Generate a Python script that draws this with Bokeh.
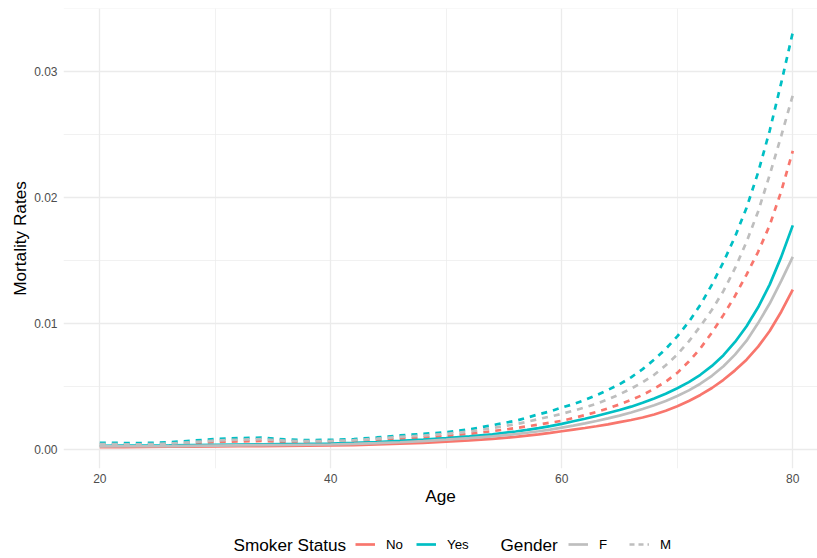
from bokeh.plotting import figure
from bokeh.layouts import column
from bokeh.models import Range1d, FixedTicker, NumeralTickFormatter, Legend, LegendItem, Label
from bokeh.core.properties import value
from bokeh.embed import file_html
from bokeh.resources import INLINE

FONT = "Liberation Sans"

ages = [20, 22, 24, 26, 28, 30, 32, 34, 36, 38, 40, 42, 44, 46, 48, 50, 52, 54, 56,
        57, 58, 59, 60, 61, 62, 63, 64, 65, 66, 67, 68, 69, 70, 71, 72, 73, 74, 75,
        76, 77, 78, 79, 80]

# Smoker = Yes, Gender = M (teal dashed)
yes_m = [0.00056, 0.00054, 0.00054, 0.00060, 0.00072, 0.00086, 0.00092, 0.00096, 0.00082, 0.00077,
         0.00079, 0.00084, 0.00098, 0.00114, 0.00126, 0.00140, 0.00162, 0.00195, 0.00230,
         0.00255, 0.00282, 0.00305, 0.00335, 0.00362, 0.00395, 0.00433, 0.00475, 0.00520, 0.00575,
         0.00640, 0.00715, 0.00800, 0.00900, 0.01015, 0.01150, 0.01310, 0.01490, 0.01690, 0.01920,
         0.02200, 0.02530, 0.02910, 0.03310]
# Both groups combined, Gender = M (grey dashed)
all_m = [0.00045, 0.00044, 0.00044, 0.00050, 0.00060, 0.00074, 0.00080, 0.00084, 0.00072, 0.00068,
         0.00070, 0.00076, 0.00088, 0.00102, 0.00113, 0.00126, 0.00145, 0.00172, 0.00203,
         0.00222, 0.00244, 0.00264, 0.00285, 0.00310, 0.00336, 0.00365, 0.00400, 0.00440, 0.00485,
         0.00535, 0.00595, 0.00670, 0.00755, 0.00860, 0.00980, 0.01110, 0.01260, 0.01440, 0.01650,
         0.01890, 0.02180, 0.02490, 0.02810]
# Smoker = No, Gender = M (red dashed)
no_m = [0.00040, 0.00038, 0.00038, 0.00044, 0.00052, 0.00062, 0.00066, 0.00070, 0.00062, 0.00058,
        0.00060, 0.00066, 0.00076, 0.00088, 0.00098, 0.00110, 0.00126, 0.00148, 0.00172,
        0.00186, 0.00200, 0.00215, 0.00230, 0.00252, 0.00275, 0.00300, 0.00328, 0.00360, 0.00395,
        0.00435, 0.00485, 0.00540, 0.00610, 0.00700, 0.00805, 0.00930, 0.01070, 0.01220, 0.01390,
        0.01570, 0.01780, 0.02050, 0.02370]
# Smoker = Yes, Gender = F (teal solid)
yes_f = [0.00032, 0.00033, 0.00034, 0.00035, 0.00037, 0.00039, 0.00041, 0.00043, 0.00045, 0.00047,
         0.00050, 0.00055, 0.00062, 0.00070, 0.00080, 0.00092, 0.00106, 0.00122, 0.00145,
         0.00158, 0.00172, 0.00188, 0.00206, 0.00226, 0.00246, 0.00268, 0.00292, 0.00316, 0.00342,
         0.00373, 0.00407, 0.00445, 0.00488, 0.00537, 0.00595, 0.00665, 0.00750, 0.00855, 0.00980,
         0.01130, 0.01310, 0.01530, 0.01780]
# Both groups combined, Gender = F (grey solid)
all_f = [0.00027, 0.00028, 0.00028, 0.00029, 0.00031, 0.00033, 0.00035, 0.00037, 0.00038, 0.00040,
         0.00042, 0.00047, 0.00053, 0.00060, 0.00069, 0.00080, 0.00092, 0.00106, 0.00124,
         0.00135, 0.00147, 0.00160, 0.00176, 0.00192, 0.00209, 0.00228, 0.00249, 0.00271, 0.00296,
         0.00323, 0.00353, 0.00387, 0.00426, 0.00471, 0.00524, 0.00587, 0.00663, 0.00755, 0.00865,
         0.01005, 0.01160, 0.01340, 0.01530]
# Smoker = No, Gender = F (red solid)
no_f = [0.00022, 0.00022, 0.00023, 0.00024, 0.00025, 0.00027, 0.00028, 0.00029, 0.00030, 0.00032,
        0.00034, 0.00037, 0.00042, 0.00048, 0.00055, 0.00064, 0.00074, 0.00086, 0.00102,
        0.00112, 0.00122, 0.00134, 0.00147, 0.00160, 0.00173, 0.00187, 0.00202, 0.00219, 0.00236,
        0.00256, 0.00280, 0.00310, 0.00345, 0.00387, 0.00435, 0.00490, 0.00555, 0.00630, 0.00715,
        0.00818, 0.00942, 0.01095, 0.01270]

x_ticks = [20, 40, 60, 80]
x_minor = [30, 50, 70]
y_ticks = [0.0, 0.01, 0.02, 0.03]
y_minor = [0.005, 0.015, 0.025, 0.035]

smoker_title = "Smoker Status"
smoker_labels = ["No", "Yes"]
gender_title = "Gender"
gender_labels = ["F", "M"]
C_NO, C_YES, C_ALL = "#F8766D", "#00BFC4", "#BEBEBE"
LW = 2.7
DASH = "6 6"
TITLE_SIZE = "17.2px"
TICK_SIZE = "12px"
LEG_SIZE = "13.3px"

# ---------------- main chart ----------------
p = figure(width=817, height=510,
           x_range=Range1d(16.857, 82.14), y_range=Range1d(-0.001483, 0.034996),
           output_backend="svg", toolbar_location=None,
           min_border_left=63, min_border_right=0, min_border_top=8, min_border_bottom=42)
p.outline_line_color = None
p.background_fill_color = "white"
p.border_fill_color = "white"

p.line(ages, no_f, line_color=C_NO, line_width=LW)
p.line(ages, no_m, line_color=C_NO, line_width=LW, line_dash=DASH)
p.line(ages, yes_f, line_color=C_YES, line_width=LW)
p.line(ages, yes_m, line_color=C_YES, line_width=LW, line_dash=DASH)
p.line(ages, all_f, line_color=C_ALL, line_width=LW)
p.line(ages, all_m, line_color=C_ALL, line_width=LW, line_dash=DASH)

p.xaxis.ticker = FixedTicker(ticks=x_ticks, minor_ticks=x_minor)
p.yaxis.ticker = FixedTicker(ticks=y_ticks, minor_ticks=y_minor)
p.yaxis.formatter = NumeralTickFormatter(format="0.00")
p.xaxis.axis_label = "Age"
p.yaxis.axis_label = "Mortality Rates"
for ax in (p.xaxis[0], p.yaxis[0]):
    ax.axis_line_color = None
    ax.major_tick_line_color = None
    ax.minor_tick_line_color = None
    ax.major_tick_out = 0
    ax.major_tick_in = 0
    ax.minor_tick_out = 0
    ax.minor_tick_in = 0
    ax.major_label_text_font = FONT
    ax.major_label_text_font_size = TICK_SIZE
    ax.major_label_text_color = "#4D4D4D"
    ax.axis_label_text_font = FONT
    ax.axis_label_text_font_size = TITLE_SIZE
    ax.axis_label_text_font_style = "normal"
    ax.axis_label_text_color = "black"
p.xaxis.major_label_standoff = 5
p.xaxis.axis_label_standoff = 0
p.yaxis.major_label_standoff = 6
p.yaxis.axis_label_standoff = 1

for g in (p.xgrid[0], p.ygrid[0]):
    g.grid_line_color = "#EBEBEB"
    g.grid_line_width = 1.3
    g.minor_grid_line_color = "#EBEBEB"
    g.minor_grid_line_width = 0.7

# ---------------- legend strip (its frame is aligned with the chart's frame) ----------------
lf = figure(width=817, height=48, x_range=Range1d(0, 1), y_range=Range1d(0, 1),
            x_axis_location=None, y_axis_location=None,
            output_backend="svg", toolbar_location=None, min_border=0)
lf.outline_line_color = None
lf.grid.grid_line_color = None
lf.background_fill_color = "white"
lf.border_fill_color = "white"

# key renderers: same series, but they fall outside this strip's ranges, so only the keys show
k_no = lf.line(ages, no_f, line_color=C_NO, line_width=LW)
k_yes = lf.line(ages, yes_f, line_color=C_YES, line_width=LW)
k_f = lf.line(ages, all_f, line_color=C_ALL, line_width=LW)
k_m = lf.line(ages, all_m, line_color=C_ALL, line_width=LW, line_dash="5 4")


def make_legend(items, loc):
    return Legend(items=items, orientation="horizontal", location=loc,
                  padding=0, margin=0, spacing=10, label_standoff=11,
                  glyph_width=20, glyph_height=20, label_height=20,
                  border_line_color=None, background_fill_alpha=0,
                  label_text_font=FONT, label_text_font_size=LEG_SIZE,
                  label_text_color="black")


lf.add_layout(make_legend([LegendItem(label=value(smoker_labels[0]), renderers=[k_no]),
                           LegendItem(label=value(smoker_labels[1]), renderers=[k_yes])], (292, 4)))
lf.add_layout(make_legend([LegendItem(label=value(gender_labels[0]), renderers=[k_f]),
                           LegendItem(label=value(gender_labels[1]), renderers=[k_m])], (505, 4)))

for txt, xpos in ((smoker_title, 170), (gender_title, 437)):
    lf.add_layout(Label(x=xpos, y=14, x_units="screen", y_units="screen", text=txt,
                        text_font=FONT, text_font_size=TITLE_SIZE, text_color="black",
                        text_baseline="middle", text_align="left"))

open("out.html", "w").write(file_html(column(p, lf), INLINE))
